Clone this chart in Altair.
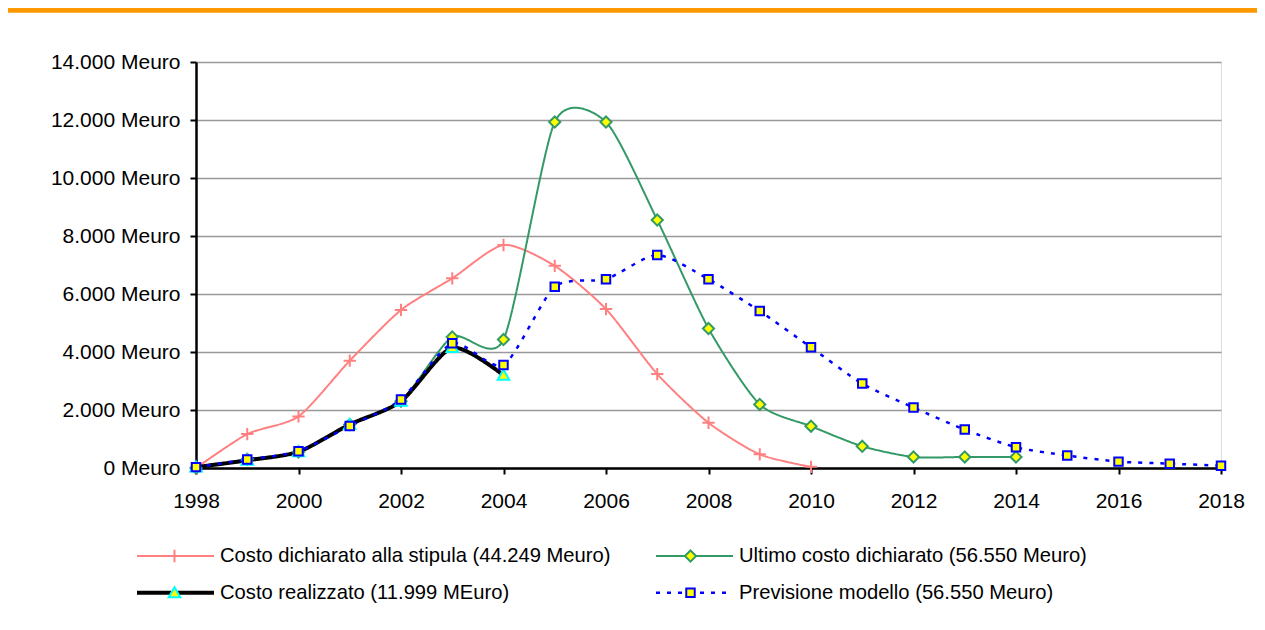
import altair as alt
import pandas as pd

# ---- data ----
names = [
    "Costo dichiarato alla stipula (44.249 Meuro)",
    "Ultimo costo dichiarato (56.550 Meuro)",
    "Costo realizzato (11.999 MEuro)",
    "Previsione modello (56.550 Meuro)",
]
years_stipula = list(range(1998, 2011))
stipula = [0, 1170, 1780, 3700, 5450, 6540, 7690, 6970, 5480, 3240, 1560, 470, 40]
years_ultimo = list(range(1998, 2015))
ultimo = [0, 300, 550, 1500, 2300, 4520, 4430, 11930, 11930, 8550, 4810, 2190, 1440, 750, 380, 380, 380]
years_realizzato = list(range(1998, 2005))
realizzato = [30, 265, 560, 1500, 2300, 4150, 3200]
years_previsione = list(range(1998, 2019))
previsione = [30, 290, 580, 1450, 2360, 4300, 3550, 6250, 6510, 7345, 6510, 5410, 4160,
              2910, 2085, 1325, 715, 430, 220, 150, 80]

line_colors = ["#FF8080", "#339966", "#000000", "#0000FF"]
line_dashes = [[1, 0], [1, 0], [1, 0], [4, 7]]
line_widths = [2, 2, 4, 2.5]
marker_paths = [
    "M-0.16,0H0.16M0,-0.16V0.16",
    "M0,-0.145L0.145,0L0,0.145L-0.145,0Z",
    "M0,-0.145L0.15,0.115L-0.15,0.115Z",
    "M-0.11,-0.11H0.11V0.11H-0.11Z",
]
marker_fills = ["transparent", "#FFFF00", "#FFFF00", "#FFFF00"]
marker_strokes = ["#FF8080", "#339966", "#00FFFF", "#0000FF"]
y_ticks = [0, 2000, 4000, 6000, 8000, 10000, 12000, 14000]
x_ticks = list(range(1998, 2019, 2))

rows = []
for name, ys, vs in zip(names,
                        [years_stipula, years_ultimo, years_realizzato, years_previsione],
                        [stipula, ultimo, realizzato, previsione]):
    for yr, v in zip(ys, vs):
        rows.append({"anno": yr, "valore": v, "serie": name, "serie_m": name + " "})
df = pd.DataFrame(rows)
names_m = [n + " " for n in names]

FONT = "Liberation Sans"
SYM = 5929  # (77 px)^2
LX, LY = -61, 475.5
CP = 43
LO = 4

legL = alt.Legend(
    orient="none", legendX=LX, legendY=LY, columns=2, direction="horizontal", title=None,
    symbolType="M-1,0H1", symbolSize=SYM, clipHeight=36.5, rowPadding=0,
    symbolStrokeWidth=alt.ExprRef(f"datum.value === '{names[2]}' ? 3.5 : 2"),
    symbolDash=alt.ExprRef(f"datum.value === '{names[3]}' ? [4, 7] : [1, 0]"),
    columnPadding=CP, labelOffset=LO, labelFontSize=20.2, labelFont=FONT,
    labelColor="black", labelLimit=1000, padding=0,
)
legB = alt.Legend(
    orient="none", legendX=LX, legendY=LY, columns=2, direction="horizontal", title=None,
    symbolSize=SYM, clipHeight=36.5, rowPadding=0, symbolStrokeWidth=2,
    columnPadding=CP + 390, labelOffset=LO, labelFontSize=20.2, labelFont=FONT,
    labelExpr="''", labelLimit=1000, padding=0,
)

x_enc = alt.X("anno:Q", scale=alt.Scale(domain=[1998, 2018], nice=False, zero=False),
              axis=alt.Axis(values=x_ticks, format="d", title=None, grid=False,
                            labelFlush=False, labelOverlap=False,
                            tickSize=6, tickWidth=2, tickColor="black",
                            domainColor="black", domainWidth=2.5,
                            labelFontSize=21, labelFont=FONT, labelColor="black",
                            labelPadding=16))
y_enc = alt.Y("valore:Q", scale=alt.Scale(domain=[0, 14000], nice=False),
              axis=alt.Axis(values=y_ticks, title=None, grid=True,
                            labelFlush=False, labelOverlap=False,
                            gridColor="#999999", gridWidth=1.3,
                            tickSize=6, tickWidth=2, tickColor="black",
                            domainColor="black", domainWidth=2.5,
                            labelFontSize=21, labelFont=FONT, labelColor="black",
                            labelPadding=10,
                            labelExpr="replace(format(datum.value, ','), ',', '.') + ' Meuro'"))

base = alt.Chart(df)

lines = base.mark_line(interpolate="cardinal", tension=0.3).encode(
    x=x_enc, y=y_enc,
    color=alt.Color("serie:N", scale=alt.Scale(domain=names, range=line_colors), legend=legL),
    strokeDash=alt.StrokeDash("serie:N", scale=alt.Scale(domain=names, range=line_dashes), legend=None),
    strokeWidth=alt.StrokeWidth("serie:N", scale=alt.Scale(type="ordinal", domain=names, range=line_widths), legend=None),
)

points = base.mark_point(opacity=1, size=SYM, strokeWidth=2).encode(
    x=x_enc, y=y_enc,
    shape=alt.Shape("serie_m:N", scale=alt.Scale(domain=names_m, range=marker_paths), legend=legB),
    fill=alt.Fill("serie_m:N", scale=alt.Scale(domain=names_m, range=marker_fills), legend=legB),
    stroke=alt.Stroke("serie_m:N", scale=alt.Scale(domain=names_m, range=marker_strokes), legend=legB),
)

banner = alt.Chart(pd.DataFrame({"k": [0]})).mark_rect(color="#FF9900").encode(
    x=alt.value(-188), x2=alt.value(1061), y=alt.value(-54), y2=alt.value(-49.3)
)

chart = alt.layer(banner, lines, points).properties(
    width=1025, height=406,
    autosize=alt.AutoSizeParams(type="none"),
    padding={"left": 188, "top": 54, "right": 36, "bottom": 142},
).configure_view(stroke="black", strokeWidth=2.5).configure(background="white")

chart.save("out.html", embed_options={"renderer": "svg", "actions": False})
